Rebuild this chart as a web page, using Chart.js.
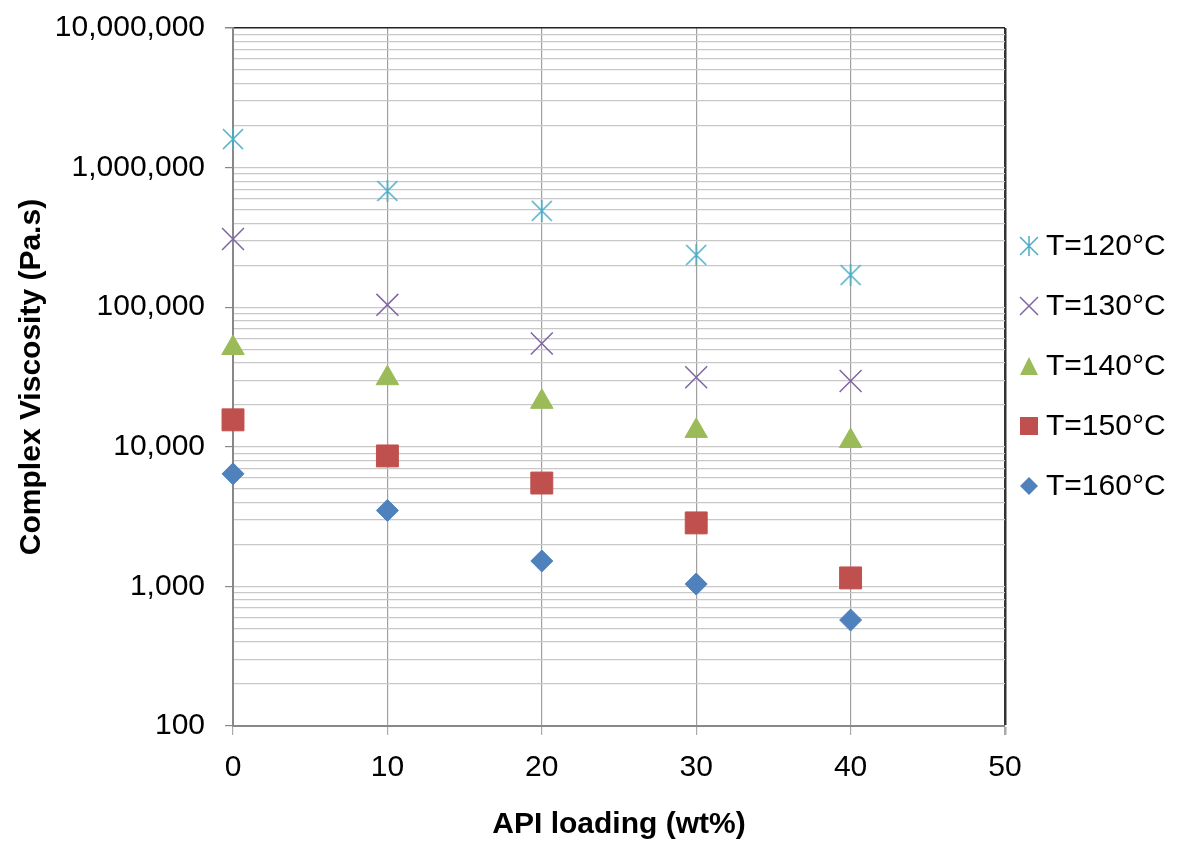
<!DOCTYPE html>
<html>
<head>
<meta charset="utf-8">
<script src="https://cdn.jsdelivr.net/npm/chart.js@4.4.1/dist/chart.umd.min.js"></script>
<style>
  body { margin: 0; background: #fff; }
  #wrap { width: 1179px; height: 841px; position: relative; }
</style>
</head>
<body>
<div id="wrap"><canvas id="viscosity-chart"></canvas></div>
<script>
// API loading (wt%) for every series
const loadings = [0, 10, 20, 30, 40];

// complex viscosity (Pa.s)
const t120 = [1600000, 680000, 490000, 237000, 170000];
const t130 = [308000, 104000, 55000, 31500, 29600];
const t140 = [51000, 31000, 21000, 13000, 11000];
const t150 = [15600, 8600, 5500, 2850, 1150];
const t160 = [6400, 3500, 1520, 1040, 574];

const seriesLabels = ["T=120°C", "T=130°C", "T=140°C", "T=150°C", "T=160°C"];

const xTicks = [0, 10, 20, 30, 40, 50];
const yTicks = [100, 1000, 10000, 100000, 1000000, 10000000];

const FONT = "'Liberation Sans', Arial, sans-serif";

// Excel-like asterisk marker (X with a vertical bar)
const starMarker = (color, size) => {
  const c = document.createElement("canvas");
  c.width = size;
  c.height = size;
  const g = c.getContext("2d");
  g.strokeStyle = color;
  g.lineWidth = 1.5;
  g.beginPath();
  g.moveTo(1, 1); g.lineTo(size - 1, size - 1);
  g.moveTo(size - 1, 1); g.lineTo(1, size - 1);
  g.moveTo(size / 2, 0); g.lineTo(size / 2, size);
  g.stroke();
  return c;
};

const toPoints = (ys) => loadings.map((x, i) => ({ x: x, y: ys[i] }));

const allYTicks = () => {
  let arr = [];
  for (let i = 0; i < yTicks.length - 1; i++) {
    for (let m = 1; m <= 9; m++) arr.push({ value: yTicks[i] * m });
  }
  arr.push({ value: yTicks[yTicks.length - 1] });
  return arr;
};

Chart.defaults.font.family = FONT;
Chart.defaults.color = "#000";

const datasets = [
  { label: seriesLabels[0], data: toPoints(t120), pointStyle: starMarker("#4BACC6", 22),
    backgroundColor: "#4BACC6", borderColor: "#4BACC6", pointRadius: 11 },
  { label: seriesLabels[1], data: toPoints(t130), pointStyle: "crossRot",
    backgroundColor: "#8064A2", borderColor: "#8064A2", pointRadius: 15.5, borderWidth: 1.5 },
  { label: seriesLabels[2], data: toPoints(t140), pointStyle: "triangle",
    backgroundColor: "#9BBB59", borderColor: "#9BBB59", pointRadius: 13, borderWidth: 1 },
  { label: seriesLabels[3], data: toPoints(t150), pointStyle: "rect",
    backgroundColor: "#C0504D", borderColor: "#C0504D", pointRadius: 15.5, borderWidth: 1 },
  { label: seriesLabels[4], data: toPoints(t160), pointStyle: "rectRot",
    backgroundColor: "#4F81BD", borderColor: "#4F81BD", pointRadius: 11, borderWidth: 1 },
].map((d) => ({ ...d, showLine: false, clip: false, pointHoverRadius: d.pointRadius }));

// legend marker, drawn small like the Excel legend
const legendMarker = (ctx, ds, x, y) => {
  const s = 9;
  ctx.save();
  ctx.fillStyle = ds.backgroundColor;
  ctx.strokeStyle = ds.borderColor;
  ctx.lineWidth = 1.5;
  ctx.beginPath();
  if (ds.pointStyle instanceof HTMLCanvasElement) {
    ctx.moveTo(x - s, y - s); ctx.lineTo(x + s, y + s);
    ctx.moveTo(x + s, y - s); ctx.lineTo(x - s, y + s);
    ctx.moveTo(x, y - s - 1); ctx.lineTo(x, y + s + 1);
    ctx.stroke();
  } else if (ds.pointStyle === "crossRot") {
    ctx.moveTo(x - s, y - s); ctx.lineTo(x + s, y + s);
    ctx.moveTo(x + s, y - s); ctx.lineTo(x - s, y + s);
    ctx.stroke();
  } else if (ds.pointStyle === "triangle") {
    ctx.moveTo(x, y - s); ctx.lineTo(x + s, y + s); ctx.lineTo(x - s, y + s);
    ctx.closePath(); ctx.fill();
  } else if (ds.pointStyle === "rect") {
    ctx.rect(x - s, y - s, 2 * s, 2 * s); ctx.fill();
  } else {
    ctx.moveTo(x, y - s); ctx.lineTo(x + s, y); ctx.lineTo(x, y + s); ctx.lineTo(x - s, y);
    ctx.closePath(); ctx.fill();
  }
  ctx.restore();
};

const sideLegend = {
  id: "sideLegend",
  afterDraw(chart) {
    const { ctx, chartArea } = chart;
    const mid = (chartArea.top + chartArea.bottom) / 2 - 11;
    ctx.save();
    ctx.font = "30px " + FONT;
    ctx.fillStyle = "#000";
    ctx.textBaseline = "middle";
    chart.data.datasets.forEach((ds, i) => {
      const y = mid + (i - 2) * 60;
      legendMarker(ctx, ds, chartArea.right + 24, y);
      ctx.fillText(ds.label, chartArea.right + 41, y + 1);
    });
    ctx.restore();
  },
};

new Chart(document.getElementById("viscosity-chart"), {
  type: "scatter",
  data: { datasets: datasets },
  plugins: [sideLegend],
  options: {
    responsive: true,
    maintainAspectRatio: false,
    animation: false,
    layout: { padding: { top: 28, right: 174, bottom: 0, left: 0 } },
    plugins: {
      tooltip: { enabled: false },
      legend: { display: false },
    },
    scales: {
      x: {
        type: "linear",
        min: 0,
        max: 50,
        afterBuildTicks: (scale) => { scale.ticks = xTicks.map((v) => ({ value: v })); },
        afterFit: (scale) => { scale.height = 115; },
        ticks: { font: { size: 30 }, padding: 15, color: "#000" },
        grid: {
          color: (ctx) => (ctx.tick && ctx.tick.value === 50 ? "#333" : "#a0a0a0"),
          lineWidth: (ctx) => (ctx.tick && ctx.tick.value === 50 ? 2.5 : 1.2),
          tickColor: "#aaa",
          tickLength: 9,
        },
        border: { color: "#888", width: 2 },
        title: {
          display: true,
          text: "API loading (wt%)",
          font: { size: 30, weight: "bold" },
          color: "#000",
          padding: { top: 0, bottom: -2 },
        },
      },
      y: {
        type: "logarithmic",
        min: 100,
        max: 10000000,
        afterBuildTicks: (scale) => { scale.ticks = allYTicks(); },
        afterFit: (scale) => {
          scale.width = 233;
          scale.paddingTop = 0;
          scale.paddingBottom = 0;
        },
        ticks: {
          autoSkip: false,
          font: { size: 30 },
          padding: 20,
          color: "#000",
          callback: (value) => (yTicks.includes(value) ? value.toLocaleString("en-US") : ""),
        },
        grid: {
          color: (ctx) => (ctx.tick && ctx.tick.value === 10000000 ? "#222" : "#c8c8c8"),
          lineWidth: (ctx) => (ctx.tick && ctx.tick.value === 10000000 ? 1.5 : 1.2),
          tickColor: (ctx) => (ctx.tick && yTicks.includes(ctx.tick.value) ? "#888" : "rgba(0,0,0,0)"),
          tickLength: 8,
        },
        border: { color: "#888", width: 2 },
        title: {
          display: true,
          text: "Complex Viscosity (Pa.s)",
          font: { size: 30, weight: "bold" },
          color: "#000",
          padding: { top: 14, bottom: 0 },
        },
      },
    },
  },
});
</script>
</body>
</html>
